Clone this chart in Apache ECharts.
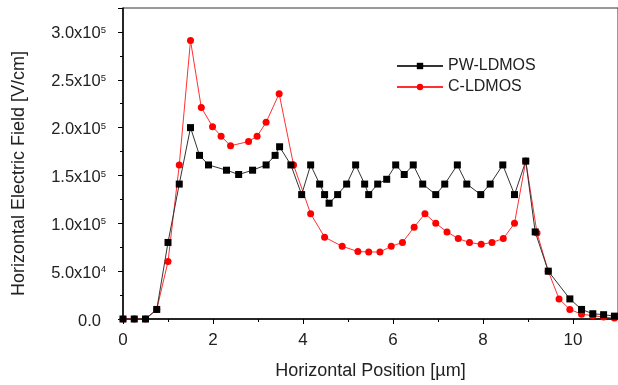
<!DOCTYPE html>
<html>
<head>
<meta charset="utf-8">
<script src="https://cdn.jsdelivr.net/npm/echarts@6/dist/echarts.min.js"></script>
<style>
  html, body { margin: 0; padding: 0; background: #fff; }
  #chart { width: 618px; height: 385px; }
</style>
</head>
<body>
<div id="chart"></div>
<script>
// 数据：横向位置 [µm] 与 横向电场 [V/cm]
const pwX = [0, 0.25, 0.5, 0.75, 1.0, 1.25, 1.5, 1.7, 1.9, 2.3, 2.57, 2.88, 3.18, 3.38, 3.48,
  3.73, 3.97, 4.17, 4.37, 4.48, 4.58, 4.77, 4.97, 5.17, 5.37, 5.46, 5.66, 5.86, 6.06, 6.25,
  6.45, 6.66, 6.95, 7.15, 7.43, 7.64, 7.95, 8.16, 8.44, 8.70, 8.95, 9.16, 9.45, 9.93, 10.19,
  10.44, 10.68, 10.92];
const pwY = [0, 0, 0, 10000, 80000, 141000, 200000, 171000, 161000, 155500, 151000, 155500,
  161000, 171000, 180000, 161000, 130000, 161000, 141000, 130000, 121000, 130000, 141000,
  161000, 141000, 130000, 141000, 146000, 161000, 151000, 161000, 141000, 130000, 141000,
  161000, 141000, 130000, 141000, 161000, 130000, 165000, 91000, 50000, 21000, 10000, 5500,
  4500, 3000];

const cX = [0, 0.25, 0.5, 0.75, 1.0, 1.25, 1.5, 1.74, 1.99, 2.18, 2.39, 2.79, 2.98, 3.18, 3.47,
  3.79, 4.17, 4.48, 4.87, 5.22, 5.46, 5.71, 5.96, 6.21, 6.47, 6.71, 6.95, 7.20, 7.45, 7.70,
  7.96, 8.20, 8.45, 8.70, 8.95, 9.20, 9.45, 9.69, 9.93, 10.19, 10.44, 10.68, 10.92];
const cY = [0, 0, 0, 10000, 60000, 161000, 291000, 221000, 201000, 191000, 181000, 185500,
  191000, 205500, 235500, 161000, 110000, 85500, 76000, 70500, 70000, 70000, 76000, 80000,
  96000, 110000, 100000, 91000, 84000, 80000, 78000, 80000, 84000, 100000, 165000, 90000,
  50000, 21000, 10000, 5000, 3500, 2000, 1000];

const xTicks = [0, 2, 4, 6, 8, 10];

const font = 'Liberation Sans, Arial, sans-serif';
const textColor = '#222';

const pwData = pwX.map((x, i) => [x, pwY[i]]);
const cData = cX.map((x, i) => [x, cY[i]]);

const myChart = echarts.init(document.getElementById('chart'));

const option = {
  animation: false,
  grid: {
    left: 123,
    top: 8,
    right: -3,
    bottom: 62,
    show: true,
    borderColor: '#333',
    borderWidth: 1,
    backgroundColor: 'transparent'
  },
  legend: {
    orient: 'vertical',
    left: 396,
    top: 58,
    padding: 0,
    itemWidth: 46,
    itemHeight: 8,
    itemGap: 5,
    data: ['PW-LDMOS', 'C-LDMOS'],
    textStyle: {
      fontFamily: font,
      fontSize: 16,
      lineHeight: 16,
      color: textColor
    }
  },
  xAxis: {
    type: 'value',
    min: 0,
    max: 11,
    interval: 2,
    name: 'Horizontal Position [µm]',
    nameLocation: 'middle',
    nameGap: 43,
    nameTextStyle: { fontFamily: font, fontSize: 18, color: textColor },
    axisLine: { lineStyle: { color: '#000', width: 1.5 } },
    axisTick: { inside: false, length: 5, lineStyle: { color: '#000', width: 1 } },
    minorTick: { show: true, splitNumber: 2, length: 3, lineStyle: { color: '#000', width: 1 } },
    splitLine: { show: false },
    axisLabel: {
      margin: 13,
      fontFamily: font,
      fontSize: 17,
      color: textColor,
      showMaxLabel: false,
      formatter: v => (xTicks.indexOf(v) >= 0 ? String(v) : '')
    }
  },
  yAxis: {
    type: 'value',
    min: 0,
    max: 325000,
    interval: 50000,
    name: 'Horizontal Electric Field [V/cm]',
    nameLocation: 'middle',
    nameGap: 95,
    nameTextStyle: { fontFamily: font, fontSize: 18, color: textColor, padding: [0, 20, 0, 0] },
    axisLine: { lineStyle: { color: '#000', width: 1.5 } },
    axisTick: { inside: false, length: 5, lineStyle: { color: '#000', width: 1 } },
    minorTick: { show: true, splitNumber: 2, length: 3, lineStyle: { color: '#000', width: 1 } },
    splitLine: { show: false },
    axisLabel: {
      margin: 17,
      showMaxLabel: false,
      formatter: function (v) {
        if (v % 50000 !== 0) return '';
        if (v === 0) return '{b|0.0}{p|}';
        const e = Math.floor(Math.log10(v) + 1e-9);
        const m = v / Math.pow(10, e);
        return '{b|' + m.toFixed(1) + 'x10}{s|' + e + '}';
      },
      rich: {
        b: { fontFamily: font, fontSize: 16.5, color: textColor, lineHeight: 17, padding: [4, 0, 0, 0] },
        s: { fontFamily: font, fontSize: 9.5, color: textColor, lineHeight: 10, verticalAlign: 'top', padding: [2, 0, 0, 0] },
        p: { width: 5 }
      }
    }
  },
  series: [
    {
      name: 'C-LDMOS',
      type: 'line',
      data: cData,
      symbol: 'circle',
      symbolSize: 7,
      itemStyle: { color: '#ff0000' },
      lineStyle: { color: '#ff3030', width: 1 }
    },
    {
      name: 'PW-LDMOS',
      type: 'line',
      data: pwData,
      symbol: 'rect',
      symbolSize: 7,
      itemStyle: { color: '#000' },
      lineStyle: { color: '#333', width: 1 }
    }
  ]
};

myChart.setOption(option);
</script>
</body>
</html>
